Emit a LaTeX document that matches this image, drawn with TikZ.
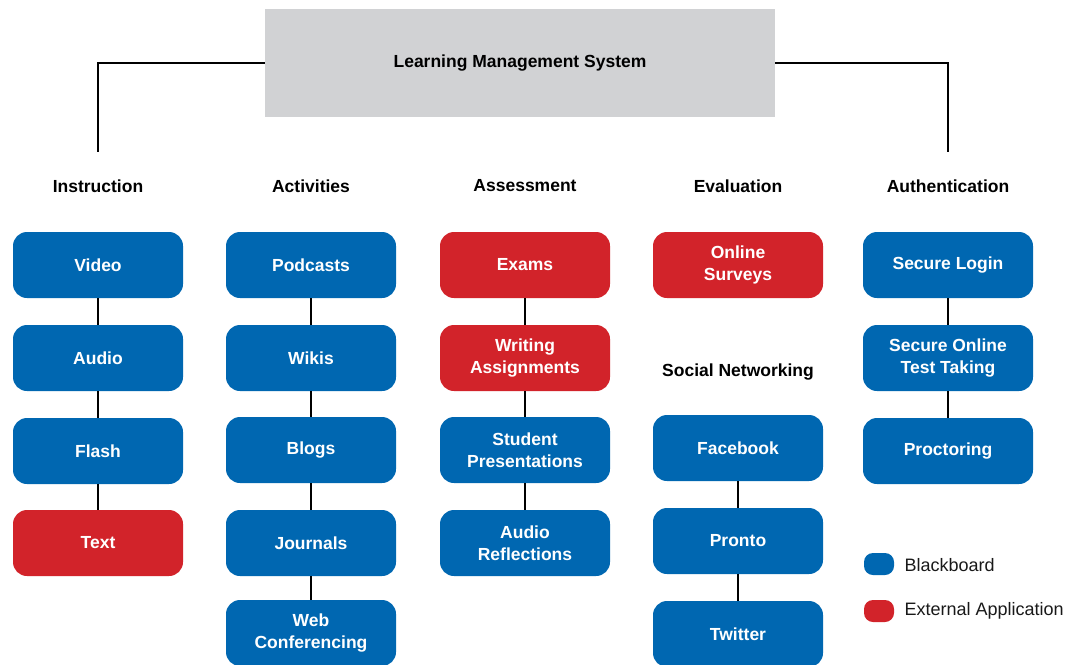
\documentclass[tikz,border=0pt]{standalone}
\usepackage{fontspec}
\setmainfont{Liberation Sans}
\definecolor{bb}{HTML}{0067B1}
\definecolor{ext}{HTML}{D2232A}
\definecolor{lms}{HTML}{D1D2D4}
\begin{document}
\begin{tikzpicture}[x=1pt,y=-1pt,
  item/.style={rounded corners=14pt,minimum width=170pt,minimum height=66pt,inner sep=0pt,
    font=\fontsize{17.5}{22}\selectfont\bfseries,text=white,align=center},
  blue/.style={item,fill=bb},
  red/.style={item,fill=ext},
  head/.style={font=\fontsize{17.5}{20}\selectfont\bfseries,text=black},
  conn/.style={line width=2.7pt,black},
  leg/.style={rounded corners=9pt,minimum width=30pt,minimum height=22pt,inner sep=0pt},
  legtext/.style={font=\fontsize{18}{20}\selectfont,anchor=west,text=black!90}]
\useasboundingbox (0,0) rectangle (1075,664);
% top
\node[fill=lms,minimum width=510pt,minimum height=108pt,inner sep=0pt,font=\fontsize{17.5}{20}\selectfont\bfseries] (lms) at (520,63) {Learning Management System};
\coordinate (tl) at (98,152);
\coordinate (tr) at (948,152);
\draw[conn] (lms.west) -| (tl);
\draw[conn] (lms.east) -| (tr);
% headers
\node[head] (h1) at (98,186) {Instruction};
\node[head] (h2) at (311,186) {Activities};
\node[head] (h3) at (525,186) {Assessment};
\node[head] (h4) at (738,186) {Evaluation};
\node[head] (h5) at (948,186) {Authentication};
\node[head] (h6) at (738,372) {Social Networking};
% column 1
\node[blue] (a1) at (98,265) {Video};
\node[blue] (a2) at (98,358) {Audio};
\node[blue] (a3) at (98,451) {Flash};
\node[red]  (a4) at (98,543) {Text};
% column 2
\node[blue] (b1) at (311,265) {Podcasts};
\node[blue] (b2) at (311,358) {Wikis};
\node[blue] (b3) at (311,450) {Blogs};
\node[blue] (b4) at (311,543) {Journals};
\node[blue] (b5) at (311,633) {Web\\Conferencing};
% column 3
\node[red]  (c1) at (525,265) {Exams};
\node[red]  (c2) at (525,358) {Writing\\Assignments};
\node[blue] (c3) at (525,450) {Student\\Presentations};
\node[blue] (c4) at (525,543) {Audio\\Reflections};
% column 4
\node[red]  (d1) at (738,265) {Online\\Surveys};
\node[blue] (d2) at (738,448) {Facebook};
\node[blue] (d3) at (738,541) {Pronto};
\node[blue] (d4) at (738,634) {Twitter};
% column 5
\node[blue] (e1) at (948,265) {Secure Login};
\node[blue] (e2) at (948,358) {Secure Online\\Test Taking};
\node[blue] (e3) at (948,451) {Proctoring};
% connectors
\draw[conn] (a1) -- (a2) (a2) -- (a3) (a3) -- (a4);
\draw[conn] (b1) -- (b2) (b2) -- (b3) (b3) -- (b4) (b4) -- (b5);
\draw[conn] (c1) -- (c2) (c2) -- (c3) (c3) -- (c4);
\draw[conn] (d2) -- (d3) (d3) -- (d4);
\draw[conn] (e1) -- (e2) (e2) -- (e3);
% legend
\node[leg,fill=bb] (l1) at (879,564) {};
\node[leg,fill=ext] (l2) at (879,611) {};
\node[legtext] (t1) at (901,565) {Blackboard};
\node[legtext] (t2) at (901,611) {External Application};
\end{tikzpicture}
\end{document}
